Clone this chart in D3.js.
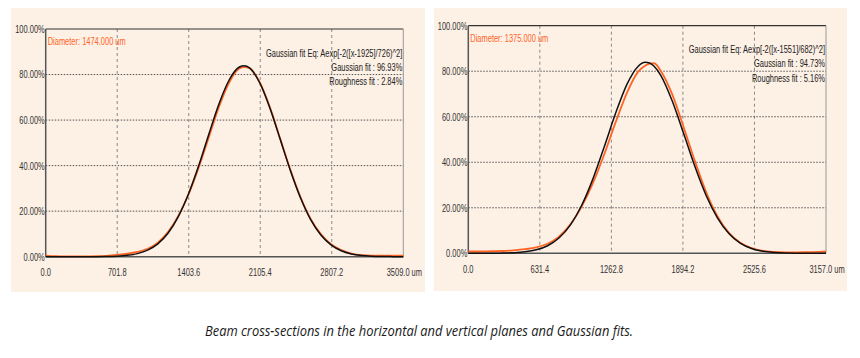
<!DOCTYPE html>
<html>
<head>
<meta charset="utf-8">
<script src="https://cdn.jsdelivr.net/npm/d3@7"></script>
<style>
  body { margin: 0; background: #fff; }
  svg { display: block; }
  .lbl { font-family: "Liberation Sans", Arial, sans-serif; }
</style>
</head>
<body>
<svg id="chart" width="860" height="358"></svg>
<script>
// ---- data ----
const yTicks = [0, 20, 40, 60, 80, 100];

// horizontal plane
const horizX       = [0, 100, 200, 300, 400, 500, 600, 700, 800, 900, 1000, 1100, 1200, 1300, 1400, 1500, 1600, 1700, 1800, 1900, 1950, 2000, 2100, 2200, 2300, 2400, 2500, 2600, 2700, 2800, 2900, 3000, 3100, 3200, 3300, 3400, 3509];
const horizProfile = [0.5, 0.2, 0.1, 0.1, 0.1, 0.2, 0.4, 0.8, 1.3, 2.1, 3.5, 6.2, 10.8, 17.8, 27.2, 39.0, 52.4, 65.8, 76.5, 82.7, 83.3, 82.8, 76.6, 65.6, 52.0, 38.3, 26.2, 16.6, 9.9, 5.5, 2.9, 1.4, 0.7, 0.5, 0.5, 0.5, 0.5];
const horizFit     = [0, 0, 0, 0, 0, 0.02, 0.09, 0.24, 0.59, 1.35, 2.87, 5.65, 10.3, 17.5, 27.4, 39.8, 53.7, 67.1, 77.6, 83.3, 83.9, 82.9, 76.4, 65.3, 51.7, 38.0, 25.9, 16.3, 9.5, 5.2, 2.6, 1.2, 0.5, 0.2, 0.08, 0.03, 0];
const horizTicks   = [0, 701.8, 1403.6, 2105.4, 2807.2, 3509.0];

// vertical plane
const vertX       = [0, 100, 200, 300, 400, 500, 600, 700, 800, 900, 1000, 1100, 1200, 1300, 1400, 1500, 1560, 1600, 1640, 1700, 1800, 1900, 2000, 2100, 2200, 2300, 2400, 2500, 2600, 2700, 2800, 2900, 3000, 3100, 3157];
const vertProfile = [0.8, 0.8, 0.9, 1.0, 1.3, 1.8, 2.6, 4.2, 7.3, 12.6, 20.5, 30.8, 43.5, 57.5, 70.5, 79.8, 82.4, 83.3, 83.5, 80.0, 69.8, 55.5, 40.5, 26.8, 16.2, 9.0, 4.6, 2.3, 1.1, 0.6, 0.4, 0.4, 0.5, 0.6, 0.8];
const vertFit     = [0, 0, 0, 0.09, 0.25, 0.64, 1.52, 3.33, 6.7, 12.4, 21.0, 32.7, 46.8, 61.5, 74.2, 82.2, 83.9, 83.6, 82.2, 78.1, 66.9, 52.7, 38.1, 25.3, 15.5, 8.7, 4.5, 2.1, 0.9, 0.36, 0.13, 0.04, 0, 0, 0];
const vertTicks   = [0, 631.4, 1262.8, 1894.2, 2525.6, 3157.0];

const panels = [
  { x: horizX, profile: horizProfile, fit: horizFit, ticks: horizTicks,
    diameter: "Diameter: 1474.000 um",
    notes: ["Gaussian fit Eq: Aexp[-2([x-1925]/726)^2]", "Gaussian fit : 96.93%", "Roughness fit : 2.84%"],
    bg: [11, 8, 425, 292], plot: [45.7, 29, 403.3, 256.7] },
  { x: vertX, profile: vertProfile, fit: vertFit, ticks: vertTicks,
    diameter: "Diameter: 1375.000 um",
    notes: ["Gaussian fit Eq: Aexp[-2([x-1551]/682)^2]", "Gaussian fit : 94.73%", "Roughness fit : 5.16%"],
    bg: [434, 8, 847, 291], plot: [468.3, 25.7, 826, 253.3] }
];

const svg = d3.select('#chart');
const orange = '#ff6426';

// condensed text helper (the software uses a narrow font)
function label(sel, x, y, txt, anchor, size, squeeze, color) {
  return sel.append('text')
    .attr('class', 'lbl')
    .attr('transform', `translate(${x},${y}) scale(${squeeze},1)`)
    .attr('text-anchor', anchor)
    .attr('font-size', size)
    .attr('fill', color)
    .text(txt);
}

panels.forEach(p => {
  const g = svg.append('g');
  const [l, t, r, b] = p.plot;
  const xMax = p.ticks[p.ticks.length - 1];

  g.append('rect')
    .attr('x', p.bg[0]).attr('y', p.bg[1])
    .attr('width', p.bg[2] - p.bg[0]).attr('height', p.bg[3] - p.bg[1])
    .attr('fill', '#fdf0e5');

  const x = d3.scaleLinear().domain([0, xMax]).range([l, r]);
  const y = d3.scaleLinear().domain([0, 100]).range([b, t]);

  // grid
  g.append('g').selectAll('line')
    .data(p.ticks.slice(1, -1))
    .join('line')
      .attr('x1', d => x(d)).attr('x2', d => x(d))
      .attr('y1', t).attr('y2', b)
      .attr('stroke', '#8a8a8a').attr('stroke-width', 1)
      .attr('stroke-dasharray', '3,3');

  g.append('g').selectAll('line')
    .data(yTicks.slice(1, -1))
    .join('line')
      .attr('x1', l).attr('x2', r)
      .attr('y1', d => y(d)).attr('y2', d => y(d))
      .attr('stroke', '#555').attr('stroke-width', 1)
      .attr('stroke-dasharray', '1.5,1.5');

  // frame
  g.append('line').attr('x1', l).attr('x2', r).attr('y1', t).attr('y2', t)
    .attr('stroke', '#333').attr('stroke-width', 1.2);
  g.append('line').attr('x1', r).attr('x2', r).attr('y1', t).attr('y2', b)
    .attr('stroke', '#999').attr('stroke-width', 1);
  g.append('line').attr('x1', l).attr('x2', l).attr('y1', t).attr('y2', b)
    .attr('stroke', '#555').attr('stroke-width', 1.5);
  g.append('line').attr('x1', l).attr('x2', r).attr('y1', b).attr('y2', b)
    .attr('stroke', '#555').attr('stroke-width', 1.5);

  // curves: measured profile (orange) under the gaussian fit (black)
  const line = d3.line()
    .x((d, i) => x(p.x[i]))
    .y(d => y(d))
    .curve(d3.curveMonotoneX);

  g.append('path').datum(p.profile)
    .attr('d', line).attr('fill', 'none')
    .attr('stroke', orange).attr('stroke-width', 1.8);
  g.append('path').datum(p.fit)
    .attr('d', line).attr('fill', 'none')
    .attr('stroke', '#111').attr('stroke-width', 1.5);

  // axis labels
  yTicks.forEach(d => label(g, l - 1, y(d) + 3.9, d.toFixed(2) + '%', 'end', 11, 0.68, '#333'));

  p.ticks.forEach((d, i) => {
    const last = i === p.ticks.length - 1;
    label(g, last ? x(d) - 16.6 : x(d), b + 19.7,
      d.toFixed(1) + (last ? ' um' : ''), last ? 'start' : 'middle', 11, 0.68, '#333');
  });

  // annotations
  label(g, l + 2, t + 16, p.diameter, 'start', 11.5, 0.65, orange);
  p.notes.forEach((d, i) => label(g, r - 1, t + 27.6 + i * 14.1, d, 'end', 11.5, 0.65, '#222'));
});

svg.append('text')
  .attr('x', 419).attr('y', 336)
  .attr('text-anchor', 'middle')
  .attr('font-family', '"Open Sans", "Noto Sans", sans-serif')
  .attr('font-style', 'italic')
  .attr('font-size', 14.5)
  .attr('fill', '#1a1a1a')
  .attr('textLength', 428).attr('lengthAdjust', 'spacingAndGlyphs')
  .text('Beam cross-sections in the horizontal and vertical planes and Gaussian fits.');
</script>
</body>
</html>
